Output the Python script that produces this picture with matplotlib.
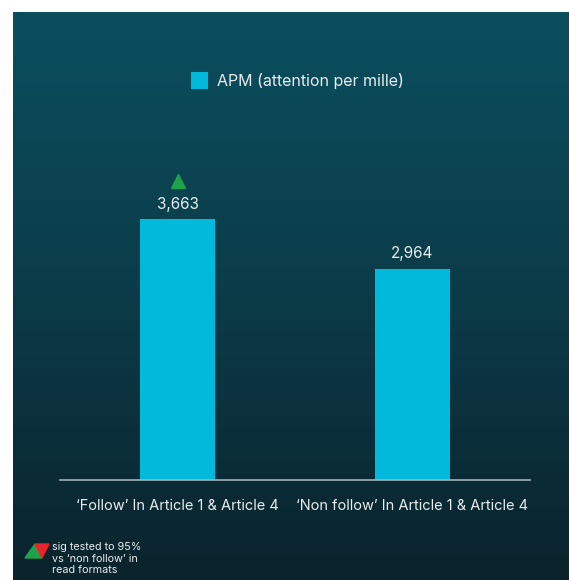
import numpy as np
import matplotlib.pyplot as plt
from matplotlib.colors import LinearSegmentedColormap
from matplotlib.patches import Polygon
from matplotlib.transforms import offset_copy

categories = ["\u2018Follow\u2019 In Article 1 & Article 4",
              "\u2018Non follow\u2019 In Article 1 & Article 4"]
apm_values = [3663, 2964]
value_labels = ["3,663", "2,964"]
significant = [True, False]
series_name = "APM (attention per mille)"
note_text = "sig tested to 95%\nvs \u2018non follow\u2019 in\nread formats"

plt.rcParams['font.family'] = ['Inter', 'DejaVu Sans']

W, H = 569, 580
fig = plt.figure(figsize=(W / 100, H / 100), dpi=100, facecolor='white')

# gradient panel behind everything
bg = fig.add_axes([13 / W, 0, 1 - 13 / W, (H - 12) / H], zorder=0)
cmap = LinearSegmentedColormap.from_list('panel', ['#0a4f5f', '#0c3b48', '#0a232c'])
grad = np.linspace(0, 1, 256).reshape(-1, 1)
bg.imshow(grad, aspect='auto', cmap=cmap, extent=[0, 1, 0, 1], origin='upper')
bg.set_axis_off()

# main bar axes
left, right, top, bottom = 60, 530, 60, 480
ax = fig.add_axes([left / W, 1 - bottom / H, (right - left) / W, (bottom - top) / H], zorder=1)
ax.set_facecolor('none')
x = np.arange(len(categories))
bar_color = '#00b9db'
ax.bar(x, apm_values, width=0.318, color=bar_color, label=series_name, zorder=2)
ax.set_xlim(-0.5, 1.5)
ax.set_ylim(0, 5895)

above = offset_copy(ax.transData, fig=fig, x=0, y=27.5, units='points')
for xi, v, lab, sig in zip(x, apm_values, value_labels, significant):
    ax.annotate(lab, (xi, v), xytext=(0, 7.5), textcoords='offset points',
                ha='center', va='baseline', color='#e6eef0', fontsize=11)
    if sig:
        # upward marker above the value label
        ax.plot([xi], [v], marker='^', markersize=10.5, color='#1ea34b',
                linestyle='none', transform=above, clip_on=False, zorder=3)

for s in ['left', 'right', 'top']:
    ax.spines[s].set_visible(False)
ax.spines['bottom'].set_color('#9fb3b8')
ax.spines['bottom'].set_linewidth(1.2)
ax.set_yticks([])
ax.set_xticks(x)
ax.set_xticklabels(categories, color='#e6eef0', fontsize=10.5)
ax.tick_params(axis='x', length=0, pad=14)

ax.legend(loc='upper center', bbox_to_anchor=(0.505, 1.005), frameon=False,
          fontsize=11.5, labelcolor='#e6eef0', handlelength=1.06, handleheight=1.25,
          handletextpad=0.6)

# significance key in the lower-left corner
fig.patches.append(Polygon([[25 / W, 1 - 558 / H], [35 / W, 1 - 544 / H], [42 / W, 1 - 558 / H]],
                           closed=True, transform=fig.transFigure, color='#1ea34b', zorder=3))
fig.patches.append(Polygon([[35 / W, 1 - 544 / H], [49 / W, 1 - 544 / H], [42 / W, 1 - 558 / H]],
                           closed=True, transform=fig.transFigure, color='#e8252b', zorder=3))
fig.text(52 / W, 1 - 542 / H, note_text, color='#e6eef0', fontsize=7.8,
         va='top', ha='left', linespacing=1.2, zorder=3)

fig.savefig('out.png', dpi=100, facecolor='white')
